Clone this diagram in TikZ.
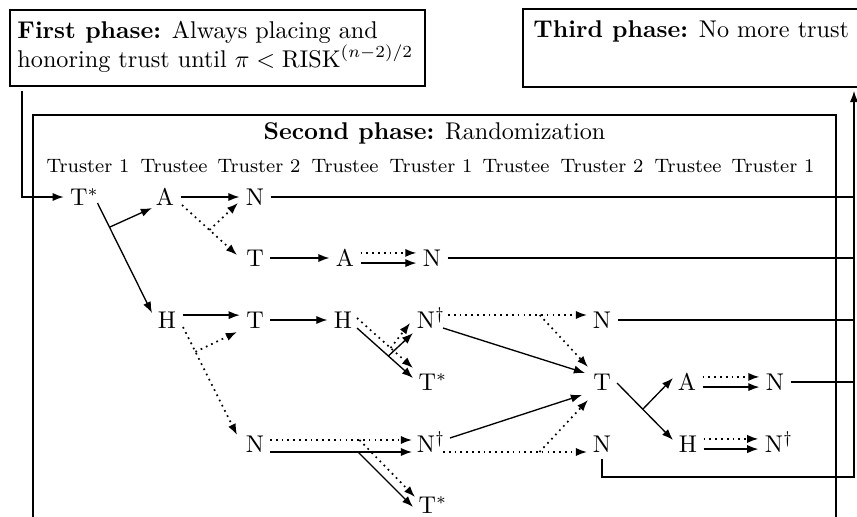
\documentclass[tikz,border=0pt]{standalone}
\usetikzlibrary{arrows.meta,calc,fit}
\begin{document}
\begin{tikzpicture}[x=0.4132pt,y=-0.4132pt,
  tip/.style={-{Latex[length=4.6pt,width=3.4pt]}},
  sol/.style={line width=0.55pt},
  dot/.style={line width=0.7pt,dash pattern=on 0.7pt off 1.7pt},
  bx/.style={line width=1.2pt,draw,inner sep=0pt},
  lt/.style={inner sep=2.5pt,text height=7pt,text depth=0pt},
  hd/.style={font=\footnotesize,inner sep=0pt},
  tx/.style={inner sep=0pt,anchor=base west}]
\useasboundingbox (0,0) rectangle (857,517);
\clip (0,0) rectangle (857,517);
% phase boxes
\node[bx,fit={(10,10)(425,86)}] (P1) {};
\node[tx] (t1a) at (17,39) {\textbf{First phase:} Always placing and};
\node[tx] (t1b) at (17,68) {honoring trust until $\pi < \mathrm{RISK}^{(n-2)/2}$};
\node[bx,fit={(523,9)(950,87)}] (P3) {};
\node[tx] (t3) at (533,38) {\textbf{Third phase:} No more trust};
\draw[line width=1.2pt] (33,530) -- (33,115) -- (836,115) -- (836,530);
\node (t2) at (434.5,133) {\textbf{Second phase:} Randomization};
% headers
\foreach \x/\t [count=\i] in {88/Truster 1,174/Trustee,259/Truster 2,345/Trustee,431/Truster 1,516/Trustee,602/Truster 2,688/Trustee,773/Truster 1}
  \node[hd] (h\i) at (\x,166) {\t};
% nodes
\node[lt] (T1) at (84.5,197) {T$^*$};
\node[lt] (A1) at (165,197) {A};
\node[lt] (N1) at (255,197) {N};
\node[lt] (T2) at (255,258) {T};
\node[lt] (A2) at (345,258) {A};
\node[lt] (N2) at (432,258) {N};
\node[lt] (H3) at (167,320) {H};
\node[lt] (T3) at (255,320) {T};
\node[lt] (H3b) at (343,320) {H};
\node[lt] (Nd3) at (431,320) {N$^\dagger$};
\node[lt] (N3) at (602,320) {N};
\node[lt] (Ts4) at (433,382) {T$^*$};
\node[lt] (T4) at (602,382) {T};
\node[lt] (A4) at (687,382) {A};
\node[lt] (N4) at (775,382) {N};
\node[lt] (N5) at (255,444) {N};
\node[lt] (Nd5) at (431,444) {N$^\dagger$};
\node[lt] (N5b) at (602,444) {N};
\node[lt] (H5) at (688,444) {H};
\node[lt] (Nd5b) at (779,444) {N$^\dagger$};
\node[lt] (Ts6) at (433,505) {T$^*$};
\coordinate (s0) at (22,0);
\coordinate (rx) at (854,0);
\coordinate (rc) at (854,477);
% entry arrow
\draw[sol,tip,shorten <=1.5pt] (P1.south -| s0) |- (T1.west);
% E1
\draw[sol,tip] ($(T1)+(13,6)$) -- coordinate[pos=.22](b1) ($(H3)+(-15,-7)$);
\draw[sol,tip] (b1) -- ($(A1)+(-13,11)$);
% E2
\draw[sol,tip] (A1.east) -- (N1.west);
\draw[dot,tip] ($(A1)+(17,8)$) -- coordinate[pos=.5](b2) ($(T2)+(-18,-3)$);
\draw[dot,tip] (b2) -- ($(N1)+(-17,6)$);
% row 2
\draw[sol,tip] (T2.east) -- (A2.west);
\draw[dot,tip] ([yshift=2.1pt]A2.east) -- ([yshift=2.1pt]N2.west);
\draw[sol,tip] ([yshift=-2.1pt]A2.east) -- ([yshift=-2.1pt]N2.west);
% row 3
\draw[sol,tip] ([yshift=2pt]H3.east) -- ([yshift=2pt]T3.west);
\draw[dot,tip] ($(H3)+(16,7)$) -- coordinate[pos=.23](b8) ($(N5)+(-18,-9)$);
\draw[dot,tip] (b8) -- ($(T3)+(-18,12)$);
\draw[sol,tip] (T3.east) -- (H3b.west);
\draw[dot,tip] ($(H3b)+(14,-2)$) -- coordinate[pos=.6](b10) ($(Ts4)+(-20,-14)$);
\draw[dot,tip] (b10) -- ($(Nd3)+(-21,3)$);
\draw[sol,tip] ($(H3b)+(14,8)$) -- coordinate[pos=.56](b10s) ($(Ts4)+(-20,-4)$);
\draw[sol,tip] (b10s) -- ($(Nd3)+(-18,13)$);
\draw[dot,tip] ($(Nd3)+(17,-5)$) -- coordinate[pos=.66](b11) ($(N3)+(-15,-5)$);
\draw[dot,tip] (b11) -- ($(T4)+(-14,-15)$);
\draw[sol,tip] ($(Nd3)+(12,8)$) -- ($(T4)+(-17,-9)$);
% row 4/5
\draw[dot,tip] ($(N5)+(15,-4)$) -- coordinate[pos=.63](b14) ($(Nd5)+(-19,-4)$);
\draw[dot,tip] (b14) -- ($(Ts6)+(-18,-8)$);
\draw[sol,tip] ($(N5)+(15,8)$) -- coordinate[pos=.62](b15) ($(Nd5)+(-19,8)$);
\draw[sol,tip] (b15) -- ($(Ts6)+(-20,2)$);
\draw[sol,tip] ($(Nd5)+(19,-6)$) -- ($(T4)+(-20,13)$);
\draw[dot,tip] ($(Nd5)+(12,8)$) -- coordinate[pos=.67](b17) ($(N5b)+(-15,8)$);
\draw[dot,tip] (b17) -- ($(T4)+(-14,18)$);
\draw[sol,tip] ($(T4)+(15,1)$) -- coordinate[pos=.46](b18) ($(H5)+(-15,-4)$);
\draw[sol,tip] (b18) -- ($(A4)+(-14,-4)$);
\draw[dot,tip] ([yshift=2.1pt]A4.east) -- ([yshift=2.1pt]N4.west);
\draw[sol,tip] ([yshift=-2.1pt]A4.east) -- ([yshift=-2.1pt]N4.west);
\draw[dot,tip] ([yshift=2.1pt]H5.east) -- ([yshift=2.1pt]Nd5b.west);
\draw[sol,tip] ([yshift=-2.1pt]H5.east) -- ([yshift=-2.1pt]Nd5b.west);
% exits to third phase
\draw[sol] (N1.east) -- (N1.east -| rx);
\draw[sol] (N2.east) -- (N2.east -| rx);
\draw[sol] (N3.east) -- (N3.east -| rx);
\draw[sol] (N4.east) -- (N4.east -| rx);
\draw[sol,tip,shorten >=1pt] (N5b.south) |- (rc) -- (rc |- P3.south);
\end{tikzpicture}
\end{document}
